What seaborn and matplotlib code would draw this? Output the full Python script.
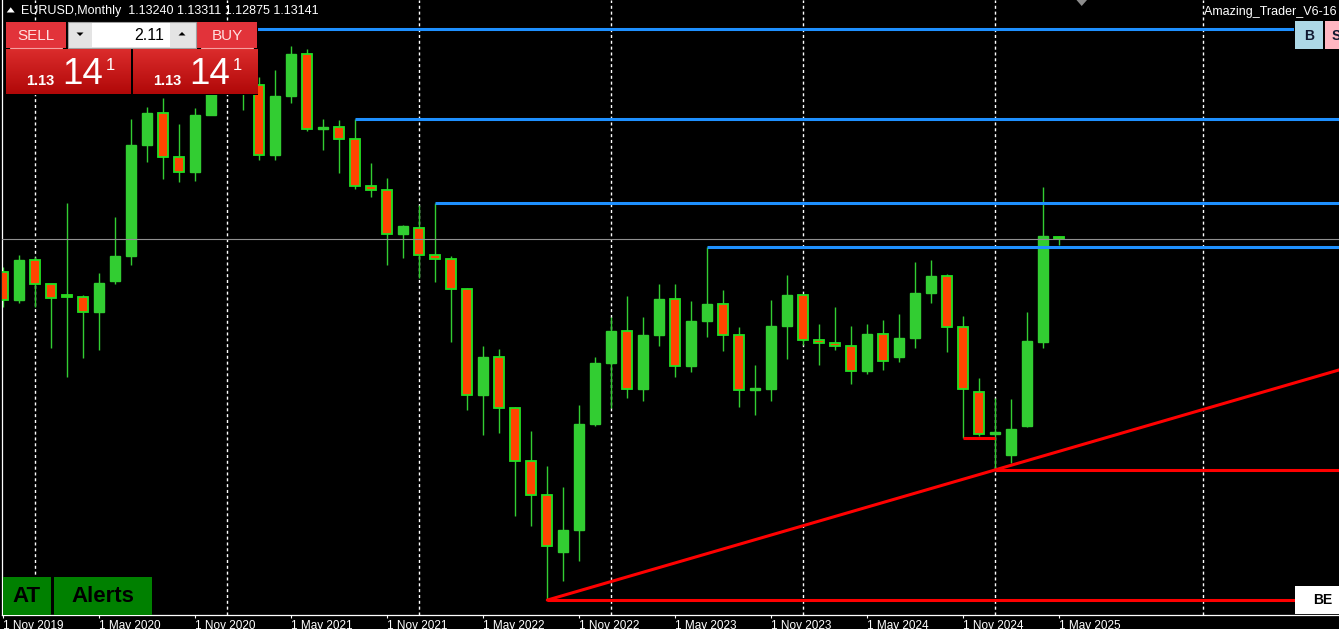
import numpy as np
import pandas as pd
import matplotlib
matplotlib.use("Agg")
import matplotlib.pyplot as plt
import seaborn as sns
from matplotlib.patches import Rectangle, Polygon
from matplotlib.colors import LinearSegmentedColormap

# ---------------- data (EURUSD monthly, Nov 2019 .. May 2025) ----------------
opens = [1.1153, 1.1017, 1.1213, 1.1093, 1.1035, 1.1030, 1.0955, 1.1110, 1.1234, 1.1778,
         1.1935, 1.1721, 1.1646, 1.1927, 1.2216, 1.2136, 1.2075, 1.1728, 1.2020, 1.2227,
         1.1858, 1.1870, 1.1809, 1.1579, 1.1558, 1.1338, 1.1370, 1.1235, 1.1219, 1.1067,
         1.0545, 1.0734, 1.0484, 1.0220, 1.0053, 0.9775, 0.9882, 1.0405, 1.0705, 1.0863,
         1.0576, 1.0840, 1.1018, 1.0690, 1.0909, 1.0997, 1.0843, 1.0573, 1.0575, 1.0888,
         1.1039, 1.0818, 1.0805, 1.0790, 1.0666, 1.0848, 1.0735, 1.0826, 1.1047, 1.1135,
         1.0884, 1.0562, 1.0354, 1.0252, 1.0395, 1.0810, 1.13240]
highs = [1.1176, 1.1239, 1.1228, 1.1096, 1.1495, 1.1038, 1.1147, 1.1422, 1.1909, 1.1966,
         1.2011, 1.1881, 1.1960, 1.2310, 1.2349, 1.2243, 1.2114, 1.2150, 1.2266, 1.2254,
         1.1909, 1.1900, 1.1909, 1.1692, 1.1616, 1.1386, 1.1483, 1.1495, 1.1233, 1.1076,
         1.0787, 1.0774, 1.0486, 1.0369, 1.0198, 1.0094, 1.0497, 1.0736, 1.0929, 1.1033,
         1.0930, 1.1095, 1.1092, 1.1012, 1.1276, 1.1065, 1.0882, 1.0695, 1.1017, 1.1140,
         1.1046, 1.0898, 1.0981, 1.0885, 1.0895, 1.0916, 1.0948, 1.1202, 1.1214, 1.1145,
         1.0937, 1.0630, 1.0533, 1.0528, 1.0955, 1.1572, 1.13311]
lows = [1.0981, 1.1002, 1.0981, 1.0778, 1.0636, 1.0727, 1.0767, 1.1095, 1.1185, 1.1696,
        1.1612, 1.1596, 1.1600, 1.1925, 1.2053, 1.1952, 1.1704, 1.1704, 1.1986, 1.1847,
        1.1752, 1.1640, 1.1563, 1.1524, 1.1186, 1.1222, 1.1121, 1.1106, 1.0806, 1.0471,
        1.0349, 1.0359, 0.9952, 0.9901, 0.9536, 0.9632, 0.9730, 1.0393, 1.0482, 1.0533,
        1.0516, 1.0788, 1.0635, 1.0662, 1.0833, 1.0766, 1.0488, 1.0448, 1.0517, 1.0724,
        1.0795, 1.0695, 1.0768, 1.0601, 1.0650, 1.0668, 1.0710, 1.0778, 1.1001, 1.0761,
        1.0333, 1.0343, 1.0178, 1.0210, 1.0388, 1.0777, 1.12875]
closes = [1.1017, 1.1213, 1.1093, 1.1026, 1.1030, 1.0955, 1.1099, 1.1234, 1.1778, 1.1935,
          1.1721, 1.1646, 1.1927, 1.2216, 1.2136, 1.2075, 1.1728, 1.2020, 1.2227, 1.1858,
          1.1870, 1.1809, 1.1579, 1.1558, 1.1338, 1.1380, 1.1235, 1.1219, 1.1067, 1.0545,
          1.0734, 1.0484, 1.0220, 1.0053, 0.9802, 0.9882, 1.0405, 1.0705, 1.0863, 1.0576,
          1.0840, 1.1018, 1.0690, 1.0909, 1.0997, 1.0843, 1.0573, 1.0575, 1.0888, 1.1039,
          1.0818, 1.0805, 1.0790, 1.0666, 1.0848, 1.0713, 1.0826, 1.1047, 1.1135, 1.0884,
          1.0577, 1.0354, 1.0361, 1.0377, 1.0815, 1.1330, 1.13141]

tick_idx = [0, 6, 12, 18, 24, 30, 36, 42, 48, 54, 60, 66]
tick_labels = ["1 Nov 2019", "1 May 2020", "1 Nov 2020", "1 May 2021", "1 Nov 2021",
               "1 May 2022", "1 Nov 2022", "1 May 2023", "1 Nov 2023", "1 May 2024",
               "1 Nov 2024", "1 May 2025"]
grid_idx = [2, 14, 26, 38, 50, 62, 75]

blue_levels = [1.2349, 1.1909, 1.1495, 1.1276]
blue_start = [14, 22, 27, 44]
red_levels = [0.9536, 1.0178, 1.0333]
red_start = [34, 62, 60]
red_stop = [83.0, 83.5, 62]
trend_x = [34, 84]
trend_y = [0.9536, 1.0682]
bid = 1.13141

df = pd.DataFrame({"i": np.arange(len(opens)), "open": opens, "high": highs,
                   "low": lows, "close": closes})

# ---------------- figure ----------------
W, H = 1339, 629
sns.set_theme(style="dark", rc={"axes.facecolor": "black", "figure.facecolor": "black"})
plt.rcParams['font.family'] = ['Liberation Sans', 'DejaVu Sans']

fig = plt.figure(figsize=(W / 100, H / 100), dpi=100)
fig.patch.set_facecolor("black")

PXS = 2029.0        # pixels per price unit
YB = 239.3          # pixel row of bid
AXB = 615           # pixel row of axis bottom
ax = fig.add_axes([2 / W, (H - AXB) / H, (W - 2) / W, AXB / H])
ax.set_facecolor("black")
xlo, xhi = (2 - 3.3) / 16, (W - 3.3) / 16
ytop = bid + YB / PXS
ybot = bid - (AXB - YB) / PXS

# grid
ax.vlines(grid_idx, ybot, ytop, colors="white", linestyles=(0, (2.2, 2.0)), lw=1.0, zorder=1)

# candles
bull = df["close"] >= df["open"]
ax.vlines(df["i"], df["low"], df["high"], colors="#32CD32", lw=1.0, zorder=2)
minh = 2.0 / PXS
bot = np.minimum(df["open"], df["close"])
hgt = np.maximum(np.abs(df["close"] - df["open"]), minh)
ax.bar(df["i"][bull], hgt[bull], bottom=bot[bull], width=10.3 / 16, color="#32CD32",
       edgecolor="#32CD32", linewidth=1.0, zorder=3)
ax.bar(df["i"][~bull], hgt[~bull], bottom=bot[~bull], width=10.3 / 16, color="#FF4500",
       edgecolor="#22E022", linewidth=1.3, zorder=3)

# bid line
ax.axhline(bid, color="#909090", lw=0.8, zorder=4)

# blue levels
for lv, st in zip(blue_levels, blue_start):
    ax.hlines(lv, st, xhi + 1, colors="#1E90FF", lw=2.2, zorder=5)

# red levels
for lv, st, sp in zip(red_levels, red_start, red_stop):
    ax.hlines(lv, st, sp, colors="#FF0000", lw=2.2, zorder=5)

# trend line
sns.lineplot(x=trend_x, y=trend_y, ax=ax, color="#FF0000", lw=2.2, zorder=5)

ax.set_xlim(xlo, xhi)
ax.set_ylim(ybot, ytop)
ax.set_xlabel("")
ax.set_ylabel("")
ax.set_yticks([])
ax.set_xticks(tick_idx)
ax.set_xticklabels(tick_labels, ha="left", color="white", fontsize=8.5)
ax.tick_params(axis="x", direction="out", length=2.5, width=0.8, color="white", pad=0.8,
               bottom=True)
for s in ["top", "right"]:
    ax.spines[s].set_visible(False)
for s in ["left", "bottom"]:
    ax.spines[s].set_visible(True)
    ax.spines[s].set_color("white")
    ax.spines[s].set_linewidth(0.9)
ax.grid(False)

# ---------------- overlay (pixel coordinates) ----------------
ov = fig.add_axes([0, 0, 1, 1])
ov.patch.set_alpha(0)
ov.axis("off")


def rect(x0, y0, x1, y1, fc, ec="none", lw=0.0, z=10):
    ov.add_patch(Rectangle((x0, y0), x1 - x0, y1 - y0, facecolor=fc, edgecolor=ec,
                           linewidth=lw, zorder=z))


# header text
ov.add_patch(Polygon([(6.7, 12.5), (14.7, 12.5), (10.7, 7.3)], closed=True,
                     facecolor="white", edgecolor="none", zorder=10))
ov.text(21, 14, "EURUSD,Monthly  1.13240 1.13311 1.12875 1.13141", color="white",
        fontsize=9, va="baseline", ha="left", zorder=11)
ov.text(1204, 15, "Amazing_Trader_V6-16 (", color="white", fontsize=9, va="baseline",
        ha="left", zorder=11)
ov.add_patch(Polygon([(1076.5, 0), (1087, 0), (1081.7, 6)], closed=True,
                     facecolor="#8C8C8C", edgecolor="none", zorder=10))

# trading panel
rect(5, 21, 258, 95, "black", z=9)
rect(6, 22, 65.7, 48.3, "#E2333A")
rect(197.3, 22, 257, 48.3, "#E2333A")
ov.plot([10, 62], [48, 48], color="#F5A0A0", lw=0.8, zorder=11)
ov.plot([201, 253], [48, 48], color="#F5A0A0", lw=0.8, zorder=11)
ov.text(35.8, 35.5, "SELL", color="#FFE0E0", fontsize=11, ha="center", va="center", zorder=11)
ov.text(227, 35.5, "BUY", color="#FFE0E0", fontsize=11, ha="center", va="center", zorder=11)
rect(67.5, 21.5, 195.7, 47.5, "#E4E4E4", ec="#A0A0A0", lw=0.8)
rect(92, 22.5, 170, 46.5, "white", z=11)
ov.add_patch(Polygon([(76.5, 32.5), (83.5, 32.5), (80, 36)], closed=True,
                     facecolor="black", edgecolor="none", zorder=12))
ov.add_patch(Polygon([(178.5, 35.5), (185.5, 35.5), (182, 32)], closed=True,
                     facecolor="black", edgecolor="none", zorder=12))
ov.text(164, 35, "2.11", color="black", fontsize=11.5, ha="right", va="center", zorder=12)

cmap = LinearSegmentedColormap.from_list("g", ["#DC2C2C", "#B00808"])
grad = np.linspace(0, 1, 64).reshape(-1, 1)
for bx0, bx1, tx in [(6, 130.7, 26), (132.7, 257, 152.7)]:
    ov.imshow(grad, extent=(bx0, bx1, 94, 49), cmap=cmap, aspect="auto", zorder=10,
              interpolation="bilinear")
    ov.text(tx, 85, "1.13", color="white", fontsize=10.5, fontweight="bold",
            va="baseline", ha="left", zorder=12)
    ov.text(tx + 36.5, 84, "14", color="white", fontsize=26.5, va="baseline", ha="left",
            zorder=12)
    ov.text(tx + 80, 70, "1", color="white", fontsize=12, va="baseline", ha="left",
            zorder=12)

# B / S buttons
rect(1294, 20, 1345, 50, "black", z=9)
rect(1295, 21, 1322.7, 49, "#ADD8E6")
ov.text(1309, 35.5, "B", color="#101830", fontsize=10, fontweight="bold", ha="center",
        va="center", zorder=12)
rect(1325, 21, 1345, 49, "#FFB6C1")
ov.text(1331.5, 35.5, "S", color="#101830", fontsize=10, fontweight="bold", ha="left",
        va="center", zorder=12)

# AT / Alerts
rect(2.7, 577, 50.7, 615, "#008000")
rect(54, 577, 152, 615, "#008000")
ov.text(26.7, 597, "AT", color="black", fontsize=16, fontweight="bold", ha="center",
        va="center", zorder=12)
ov.text(103, 597, "Alerts", color="black", fontsize=16, fontweight="bold", ha="center",
        va="center", zorder=12)

# BE
rect(1295, 586, 1345, 613.5, "white")
ov.text(1322.8, 600, "BE", color="black", fontsize=10, fontweight="bold", ha="center",
        va="center", zorder=12)

ov.set_xlim(0, W)
ov.set_ylim(H, 0)

fig.savefig("out.png", dpi=100, facecolor="black")
